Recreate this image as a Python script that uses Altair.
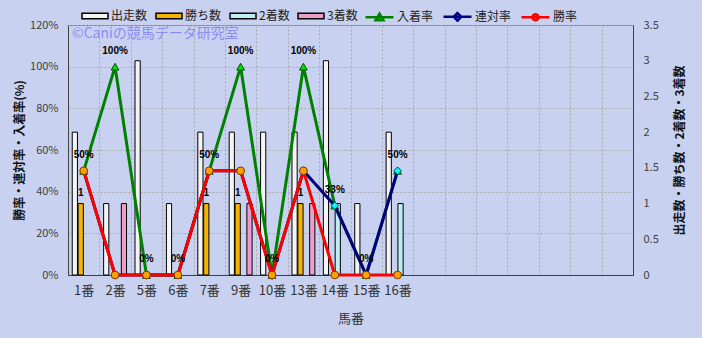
import altair as alt
import pandas as pd

# ---- data ----
cats = ["1番", "2番", "5番", "6番", "7番", "9番", "10番", "13番", "14番", "15番", "16番"]
blank_slots = ["_1", "_2", "_3", "_4", "_5", "_6", "_7"]
starts = [2, 1, 3, 1, 2, 2, 2, 2, 3, 1, 2]
wins = [1, 0, 0, 0, 1, 1, 0, 1, 0, 0, 0]
seconds = [0, 0, 0, 0, 0, 0, 0, 0, 1, 0, 1]
thirds = [0, 1, 0, 0, 0, 1, 0, 1, 0, 0, 0]
place_rate = [50, 100, 0, 0, 50, 100, 0, 100, 33.3, 0, 50]
rentai_rate = [50, 0, 0, 0, 50, 50, 0, 50, 33.3, 0, 50]
win_rate = [50, 0, 0, 0, 50, 50, 0, 50, 0, 0, 0]

bar_series = ["出走数", "勝ち数", "2着数", "3着数"]
bar_colors = ["#F4F4F4", "#F5B400", "#BDEDF2", "#EE9CC8"]
rate_series = ["入着率", "連対率", "勝率"]
line_colors = ["#008000", "#000080", "#FF0000"]
marker_fill = ["#00E000", "#00FFFF", "#FFA000"]
marker_stroke = ["#005000", "#004060", "#7A3A00"]
marker_shape = ["triangle-up", "diamond", "circle"]
legend_paths = [
    "M-1,0H1M0,-0.27L0.28,0.2H-0.28Z",
    "M-1,0H1M0,-0.27L0.27,0L0,0.27L-0.27,0Z",
    "M-1,0H1M-0.22,0A0.22,0.22 0 1,0 0.22,0A0.22,0.22 0 1,0 -0.22,0Z",
]
bar_legend_path = "M-1,-0.21H1V0.21H-1Z"
watermark = "©Caniの競馬データ研究室"

FONT = "Noto Sans CJK JP"
x_domain = cats + blank_slots

# ---- tables ----
bar_rows = []
for i, c in enumerate(cats):
    for s, vals in zip(bar_series, [starts, wins, seconds, thirds]):
        if vals[i] > 0:
            bar_rows.append({"馬番": c, "系列": s, "件数": vals[i]})
bar_df = pd.DataFrame(bar_rows)
win_lbl_df = pd.DataFrame(
    [{"馬番": c, "系列": "勝ち数", "件数": w} for c, w in zip(cats, wins) if w > 0]
)

rate_rows = []
for s, vals in zip(rate_series, [place_rate, rentai_rate, win_rate]):
    for c, v in zip(cats, vals):
        rate_rows.append({"馬番": c, "率系列": s, "率": v})
rate_df = pd.DataFrame(rate_rows)
legend_df = pd.DataFrame({"率系列": rate_series})

# ---- shared encodings ----
x_enc = alt.X(
    "馬番:N",
    sort=x_domain,
    scale=alt.Scale(domain=x_domain, paddingInner=0, paddingOuter=0),
    axis=alt.Axis(
        title="馬番",
        labelExpr="indexof(datum.label, '_') == 0 ? '' : datum.label",
        labelAngle=0,
        labelFontSize=13,
        labelColor="#333333",
        labelPadding=9,
        ticks=False,
        grid=True,
        tickBand="extent",
        gridDash=[2, 2],
        gridColor="#A8A8A8",
        domainColor="#404040",
        titleFontSize=13,
        titleFontWeight="normal",
        titleColor="#333333",
        titleY=43,
        titleBaseline="middle",
    ),
)

xoff_enc = alt.XOffset(
    "系列:N",
    sort=bar_series,
    scale=alt.Scale(domain=bar_series, paddingInner=0.12, paddingOuter=0.72),
)

y_count = alt.Y(
    "件数:Q",
    scale=alt.Scale(domain=[0, 3.5], nice=False, zero=True),
    axis=alt.Axis(
        orient="right",
        values=[0, 0.5, 1, 1.5, 2, 2.5, 3, 3.5],
        format="~g",
        grid=False,
        ticks=False,
        labelPadding=10,
        labelFontSize=11,
        labelColor="#404040",
        domainColor="#404040",
        title="出走数・勝ち数・2着数・3着数",
        titleAngle=-90,
        titleX=46,
        titleY=125,
        titleAlign="center",
        titleBaseline="middle",
        titleFontSize=12,
        titleFontWeight="bold",
        titleColor="#111111",
    ),
)

y_rate = alt.Y(
    "率:Q",
    scale=alt.Scale(domain=[0, 120], nice=False, zero=True),
    axis=alt.Axis(
        orient="left",
        values=[0, 20, 40, 60, 80, 100, 120],
        labelExpr="datum.value + '%'",
        grid=True,
        gridDash=[2, 2],
        gridColor="#A8A8A8",
        ticks=False,
        labelPadding=10,
        labelFontSize=11,
        labelColor="#404040",
        domainColor="#404040",
        title="勝率・連対率・入着率(%)",
        titleAngle=-90,
        titleX=-49,
        titleY=125,
        titleAlign="center",
        titleBaseline="middle",
        titleFontSize=12,
        titleFontWeight="bold",
        titleColor="#111111",
    ),
)

# ---- bars (right axis) ----
bars = alt.Chart(bar_df).mark_bar(stroke="#000000", strokeWidth=1).encode(
    x=x_enc,
    xOffset=xoff_enc,
    y=y_count,
    color=alt.Color(
        "系列:N",
        sort=bar_series,
        scale=alt.Scale(domain=bar_series, range=bar_colors),
        legend=alt.Legend(
            title=None,
            orient="none",
            direction="horizontal",
            legendX=13,
            legendY=-23,
            padding=0,
            symbolType=bar_legend_path,
            symbolSize=676,
            symbolStrokeColor="#000000",
            symbolStrokeWidth=1.5,
            labelFont=FONT,
            labelFontSize=12,
            labelColor="#222222",
            labelOffset=2,
            columnPadding=5,
        ),
    ),
)

win_labels = alt.Chart(win_lbl_df).mark_text(
    dy=-11, fontSize=10, fontWeight="bold", font="Liberation Sans", color="#000000"
).encode(x=x_enc, xOffset=xoff_enc, y=y_count, text=alt.Text("件数:Q"))

bar_group = alt.layer(bars, win_labels)

# ---- rate lines (left axis) ----
rate_layers = []
for i, s in enumerate(rate_series):
    base = alt.Chart(rate_df).transform_filter(alt.datum["率系列"] == s)
    rate_layers.append(
        base.mark_line(color=line_colors[i], strokeWidth=3).encode(x=x_enc, y=y_rate)
    )
    rate_layers.append(
        base.mark_point(
            shape=marker_shape[i],
            filled=True,
            fill=marker_fill[i],
            stroke=marker_stroke[i],
            strokeWidth=1,
            size=60,
            opacity=1,
        ).encode(x=x_enc, y=y_rate)
    )

place_labels = (
    alt.Chart(rate_df)
    .transform_filter(alt.datum["率系列"] == "入着率")
    .transform_calculate(lbl="format(datum['率'], '.0f') + '%'")
    .mark_text(dy=-16, fontSize=10, fontWeight="bold", font="Liberation Sans", color="#000000")
    .encode(x=x_enc, y=y_rate, text="lbl:N")
)

line_legend = dict(
    title=None,
    orient="none",
    direction="horizontal",
    legendX=296,
    legendY=-24,
    padding=0,
    symbolSize=784,
    symbolStrokeWidth=2.5,
    labelFont=FONT,
    labelFontSize=12,
    labelColor="#222222",
    labelOffset=2,
    columnPadding=4,
)

legend_layer = (
    alt.Chart(legend_df)
    .transform_filter("false")
    .mark_point(filled=True, opacity=1)
    .encode(
        shape=alt.Shape("率系列:N", sort=rate_series,
                        scale=alt.Scale(domain=rate_series, range=legend_paths),
                        legend=alt.Legend(**line_legend)),
        fill=alt.Fill("率系列:N", sort=rate_series,
                      scale=alt.Scale(domain=rate_series, range=marker_fill),
                      legend=alt.Legend(**line_legend)),
        stroke=alt.Stroke("率系列:N", sort=rate_series,
                          scale=alt.Scale(domain=rate_series, range=line_colors),
                          legend=alt.Legend(**line_legend)),
    )
)

rate_group = alt.layer(*rate_layers, place_labels, legend_layer)

chart = (
    alt.layer(bar_group, rate_group)
    .resolve_scale(y="independent")
    .properties(
        width=565,
        height=250,
        autosize=alt.AutoSizeParams(type="none"),
        padding={"left": 68, "top": 25, "right": 69, "bottom": 63},
        background="#C8D2F0",
        title=alt.TitleParams(
            watermark,
            anchor="start",
            frame="group",
            orient="top",
            baseline="top",
            offset=0,
            dx=4,
            dy=40,
            font=FONT,
            fontSize=14,
            fontWeight="normal",
            color="#8C8CF2",
        ),
    )
    .configure_view(fill="#FFFFCC", stroke="#808080", strokeWidth=1)
    .configure_axis(labelFont=FONT, titleFont=FONT)
)

chart.save("out.html", embed_options={"renderer": "svg", "actions": False})
